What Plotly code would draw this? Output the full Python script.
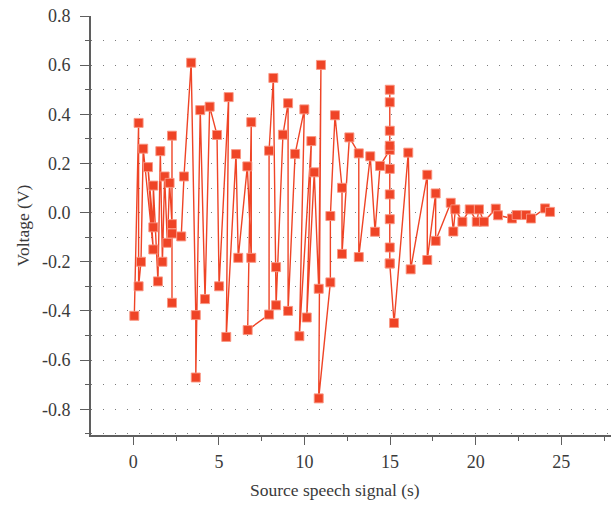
import plotly.graph_objects as go

# Sampled source speech signal: time (s) and voltage (V), in recording order
time_s = [
    0.06, 0.31, 0.31, 0.45, 0.58, 1.17, 0.86, 1.17, 1.17, 1.44,
    1.58, 1.70, 1.83, 1.99, 2.12, 2.26, 2.26, 2.26, 2.26, 2.80,
    2.96, 3.38, 3.65, 3.65, 3.91, 4.19, 4.46, 4.89, 5.01, 5.57,
    5.43, 6.00, 6.13, 6.66, 6.89, 6.89, 6.68, 7.93, 7.93, 8.18,
    8.34, 8.34, 8.74, 9.04, 9.04, 9.45, 9.99, 9.70, 10.40, 10.13,
    10.57, 10.83, 10.96, 10.83, 11.51, 11.51, 11.78, 12.19, 12.19, 12.62,
    13.17, 13.17, 13.84, 14.12, 14.41, 14.98, 14.98, 14.98, 14.98, 14.98,
    14.98, 14.98, 14.98, 14.98, 14.98, 14.98, 15.23, 16.06, 16.20, 17.17,
    17.17, 17.66, 17.66, 18.54, 18.69, 18.81, 19.22, 19.65, 20.06, 20.19,
    20.48, 21.17, 21.30, 22.12, 22.39, 22.94, 23.23, 24.05, 24.34,
]
voltage = [
    -0.42, 0.365, -0.30, -0.20, 0.26, -0.15, 0.185, -0.06, 0.11, -0.28,
    0.25, -0.20, 0.147, -0.123, 0.121, -0.047, 0.313, -0.367, -0.085, -0.097,
    0.147, 0.61, -0.417, -0.671, 0.417, -0.352, 0.431, 0.316, -0.30, 0.47,
    -0.506, 0.238, -0.184, 0.188, -0.184, 0.368, -0.478, -0.415, 0.252, 0.548,
    -0.222, -0.377, 0.317, 0.445, -0.40, 0.239, 0.42, -0.503, 0.291, -0.427,
    0.164, -0.31, 0.601, -0.756, -0.284, -0.014, 0.396, 0.101, -0.168, 0.306,
    0.241, -0.181, 0.229, -0.078, 0.19, 0.255, 0.272, 0.333, 0.449, 0.50,
    0.178, 0.074, -0.027, -0.142, -0.207, -0.207, -0.449, 0.244, -0.231, 0.154,
    -0.193, 0.078, -0.115, 0.040, -0.077, 0.013, -0.037, 0.013, -0.037, 0.013,
    -0.037, 0.016, -0.011, -0.024, -0.010, -0.010, -0.024, 0.017, 0.003,
]

x_ticks = [0, 5, 10, 15, 20, 25]
y_ticks = [-0.8, -0.6, -0.4, -0.2, 0.0, 0.2, 0.4, 0.6, 0.8]
y_tick_text = [f"{v:.1f}".replace("\u2212", "-") for v in y_ticks]

red = "#EF4426"
axis_grey = "#5f5f5f"
font_family = "Liberation Serif, DejaVu Serif, serif"

fig = go.Figure(
    go.Scatter(
        x=time_s,
        y=voltage,
        mode="lines+markers",
        line=dict(color=red, width=1.4),
        marker=dict(
            symbol="square",
            size=9,
            color=red,
            line=dict(color="rgba(250,150,130,0.9)", width=1),
        ),
        showlegend=False,
    )
)

fig.update_layout(
    width=611,
    height=506,
    margin=dict(l=91, r=0, t=16, b=71),
    paper_bgcolor="white",
    plot_bgcolor="white",
    font=dict(family=font_family, size=17, color="#3a3a3a"),
)

fig.update_xaxes(
    range=[-2.47, 27.9],
    tickvals=x_ticks,
    ticks="outside",
    ticklen=8,
    tickwidth=1.3,
    tickcolor=axis_grey,
    showline=True,
    linecolor=axis_grey,
    linewidth=1.6,
    showgrid=False,
    zeroline=False,
    minor=dict(dtick=2.5, tick0=0, ticks="outside", ticklen=4,
               tickwidth=1.2, tickcolor=axis_grey, showgrid=False),
    tickfont=dict(size=18),
    ticklabelstandoff=2,
)

# x-axis title placed as an annotation below the tick labels
fig.add_annotation(
    text="Source speech signal (s)",
    xref="paper", yref="paper",
    x=0.469, y=0,
    xanchor="center", yanchor="middle",
    yshift=-55,
    showarrow=False,
    font=dict(size=17.5),
)

fig.update_yaxes(
    range=[-0.905, 0.8],
    tickvals=y_ticks,
    ticktext=y_tick_text,
    ticks="outside",
    ticklen=9,
    tickwidth=1.3,
    tickcolor=axis_grey,
    showline=True,
    linecolor=axis_grey,
    linewidth=1.6,
    showgrid=True,
    gridcolor="#7a7a7a",
    gridwidth=1.2,
    griddash="1.2px,10.8px",
    zeroline=False,
    minor=dict(dtick=0.1, tick0=0, ticks="outside", ticklen=4,
               tickwidth=1.2, tickcolor=axis_grey, showgrid=True,
               gridcolor="#7a7a7a", gridwidth=1.2, griddash="1.2px,10.8px"),
    title=dict(text="Voltage (V)", font=dict(size=17.5), standoff=8),
    tickfont=dict(size=18),
    ticklabelstandoff=6,
)

fig.write_html("out.html")
